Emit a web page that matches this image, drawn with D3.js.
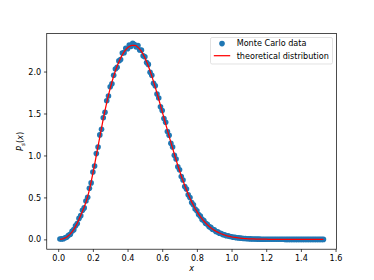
<!DOCTYPE html>
<html>
<head>
<meta charset="utf-8">
<script src="https://cdn.jsdelivr.net/npm/d3@7"></script>
<style>
  body { margin: 0; background: #fff; }
  text { font-family: "DejaVu Sans", sans-serif; fill: #000; }
</style>
</head>
<body>
<svg width="374" height="280"></svg>
<script>
// sample positions
var xs = [
  0.01,0.02,0.03,0.04,0.05,0.06,0.07,0.08,0.09,0.10,
  0.11,0.12,0.13,0.14,0.15,0.16,0.17,0.18,0.19,0.20,
  0.21,0.22,0.23,0.24,0.25,0.26,0.27,0.28,0.29,0.30,
  0.31,0.32,0.33,0.34,0.35,0.36,0.37,0.38,0.39,0.40,
  0.41,0.42,0.43,0.44,0.45,0.46,0.47,0.48,0.49,0.50,
  0.51,0.52,0.53,0.54,0.55,0.56,0.57,0.58,0.59,0.60,
  0.61,0.62,0.63,0.64,0.65,0.66,0.67,0.68,0.69,0.70,
  0.71,0.72,0.73,0.74,0.75,0.76,0.77,0.78,0.79,0.80,
  0.81,0.82,0.83,0.84,0.85,0.86,0.87,0.88,0.89,0.90,
  0.91,0.92,0.93,0.94,0.95,0.96,0.97,0.98,0.99,1.00,
  1.01,1.02,1.03,1.04,1.05,1.06,1.07,1.08,1.09,1.10,
  1.11,1.12,1.13,1.14,1.15,1.16,1.17,1.18,1.19,1.20,
  1.21,1.22,1.23,1.24,1.25,1.26,1.27,1.28,1.29,1.30,
  1.31,1.32,1.33,1.34,1.35,1.36,1.37,1.38,1.39,1.40,
  1.41,1.42,1.43,1.44,1.45,1.46,1.47,1.48,1.49,1.50,
  1.51,1.52,1.53
]

// Monte Carlo histogram values
var mcData = [
  0.005,0.006,0.008,0.020,0.027,0.049,0.062,0.096,0.116,0.163,
  0.189,0.250,0.283,0.347,0.375,0.457,0.502,0.610,0.673,0.803,
  0.875,1.022,1.100,1.245,1.312,1.450,1.515,1.652,1.708,1.818,
  1.853,1.955,2.030,2.050,2.127,2.142,2.220,2.225,2.277,2.271,
  2.316,2.300,2.335,2.323,2.292,2.310,2.256,2.255,2.187,2.177,
  2.108,2.085,1.992,1.955,1.860,1.830,1.732,1.685,1.579,1.535,
  1.441,1.395,1.286,1.240,1.146,1.100,1.003,0.957,0.866,0.829,
  0.748,0.707,0.631,0.600,0.532,0.499,0.438,0.413,0.362,0.341,
  0.296,0.277,0.238,0.224,0.192,0.180,0.152,0.143,0.121,0.114,
  0.094,0.089,0.074,0.070,0.057,0.054,0.043,0.042,0.034,0.032,
  0.025,0.024,0.019,0.018,0.015,0.014,0.010,0.011,0.008,0.007,
  0.006,0.005,0.004,0.004,0.003,0.003,0.002,0.002,0.002,0.001,
  0.001,0.001,0.001,0.001,0.001,0.001,0.001,0.001,0.001,0.001,
  0,0,0,0,0,0,0,0,0,0,
  0,0,0,0,0,0,0,0,0,0,
  0,0,0
]

// theoretical curve
var theory = [
  0.001,0.004,0.009,0.017,0.029,0.045,0.065,0.090,0.120,0.155,
  0.195,0.240,0.288,0.335,0.385,0.442,0.510,0.590,0.685,0.785,
  0.890,1.000,1.110,1.220,1.330,1.435,1.535,1.630,1.720,1.800,
  1.875,1.945,2.010,2.065,2.115,2.160,2.200,2.235,2.262,2.283,
  2.298,2.308,2.313,2.313,2.307,2.290,2.268,2.240,2.205,2.165,
  2.118,2.065,2.007,1.945,1.880,1.812,1.742,1.670,1.597,1.523,
  1.449,1.375,1.301,1.228,1.156,1.085,1.015,0.947,0.881,0.817,
  0.756,0.697,0.641,0.588,0.538,0.491,0.447,0.406,0.368,0.333,
  0.301,0.271,0.244,0.219,0.196,0.175,0.156,0.139,0.124,0.110,
  0.097,0.086,0.076,0.067,0.059,0.052,0.045,0.040,0.035,0.030,
  0.026,0.023,0.020,0.017,0.015,0.013,0.011,0.010,0.008,0.007,
  0.006,0.005,0.005,0.004,0.003,0.003,0.003,0.002,0.002,0.002,
  0.001,0.001,0.001,0.001,0.001,0.001,0.001,0.001,0.001,0.001,
  0,0,0,0,0,0,0,0,0,0,
  0,0,0,0,0,0,0,0,0,0,
  0,0,0
]

var xTicks = [0.0, 0.2, 0.4, 0.6, 0.8, 1.0, 1.2, 1.4, 1.6]
var yTicks = [0.0, 0.5, 1.0, 1.5, 2.0]
var legendLabels = ['Monte Carlo data', 'theoretical distribution']

var svg = d3.select('svg')
var plotL = 46.75, plotR = 336.6, plotT = 33.6, plotB = 249.2

var x = d3.scaleLinear().domain([-0.066, 1.606]).range([plotL, plotR])
var y = d3.scaleLinear().domain([-0.117, 2.452]).range([plotB, plotT])

// scatter
svg.append('g')
  .selectAll('circle')
  .data(xs)
  .enter()
  .append('circle')
  .attr('cx', function(d) { return x(d) })
  .attr('cy', function(d, i) { return y(mcData[i]) })
  .attr('r', 2.8)
  .attr('fill', '#1f77b4')

// theory line
var line = d3.line()
  .x(function(d) { return x(d) })
  .y(function(d, i) { return y(theory[i]) })
svg.append('path')
  .datum(xs)
  .attr('d', line)
  .attr('fill', 'none')
  .attr('stroke', '#ff0000')
  .attr('stroke-width', 1.25)

// axes
var xAxis = d3.axisBottom(x).tickValues(xTicks).tickFormat(d3.format('.1f'))
  .tickSize(2.8).tickSizeOuter(0).tickPadding(2.8)
var yAxis = d3.axisLeft(y).tickValues(yTicks).tickFormat(d3.format('.1f'))
  .tickSize(2.8).tickSizeOuter(0).tickPadding(2.8)

var gx = svg.append('g').attr('transform', 'translate(0,' + plotB + ')').call(xAxis)
var gy = svg.append('g').attr('transform', 'translate(' + plotL + ',0)').call(yAxis)
;[gx, gy].forEach(function(g) {
  g.select('.domain').remove()
  g.selectAll('line').attr('stroke', '#000').attr('stroke-width', 0.7)
  g.selectAll('text').attr('font-family', 'DejaVu Sans').attr('font-size', 8.1).attr('fill', '#000')
})

// frame
svg.append('rect')
  .attr('x', plotL).attr('y', plotT)
  .attr('width', plotR - plotL).attr('height', plotB - plotT)
  .attr('fill', 'none').attr('stroke', '#000').attr('stroke-width', 0.7)

// axis labels
svg.append('text')
  .attr('x', (plotL + plotR) / 2).attr('y', 271)
  .attr('text-anchor', 'middle')
  .attr('font-size', 8.1).attr('font-style', 'italic')
  .text('x')

var yl = svg.append('text')
  .attr('transform', 'translate(23,' + (plotT + plotB) / 2 + ') rotate(-90)')
  .attr('text-anchor', 'middle')
  .attr('font-size', 8.1).attr('font-style', 'italic')
yl.append('tspan').text('P')
yl.append('tspan').attr('font-size', 5.7).attr('dy', 1.8).text('s')
yl.append('tspan').attr('dy', -1.8).attr('font-style', 'normal').text('(')
yl.append('tspan').text('x')
yl.append('tspan').attr('font-style', 'normal').text(')')

// legend
var lg = svg.append('g')
lg.append('rect')
  .attr('x', 210.5).attr('y', 37.5).attr('width', 122).attr('height', 26.5)
  .attr('rx', 1.6)
  .attr('fill', '#fff').attr('fill-opacity', 0.8)
  .attr('stroke', '#d6d6d6').attr('stroke-width', 0.7)
lg.append('circle').attr('cx', 222).attr('cy', 43.6).attr('r', 2.8).attr('fill', '#1f77b4')
lg.append('line')
  .attr('x1', 213.8).attr('x2', 230.2).attr('y1', 55.7).attr('y2', 55.7)
  .attr('stroke', '#ff0000').attr('stroke-width', 1.25)
lg.selectAll('text.lab')
  .data(legendLabels)
  .enter()
  .append('text')
  .attr('class', 'lab')
  .attr('x', 236.7)
  .attr('y', function(d, i) { return 46.4 + i * 12.1 })
  .attr('font-size', 8.1)
  .text(function(d) { return d })
</script>
</body>
</html>
